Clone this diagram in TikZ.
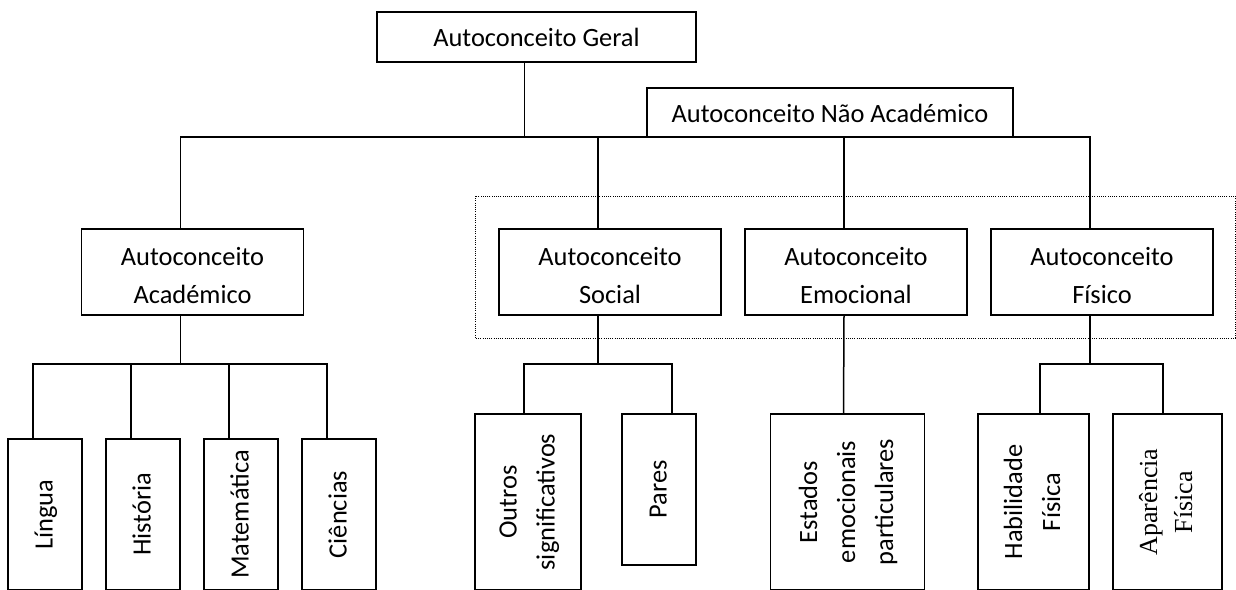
\documentclass[tikz,border=0pt]{standalone}
\usepackage{fontspec}
\setmainfont{Carlito}
\newfontfamily\serifface{Liberation Serif}
\usepackage{graphicx}
\usetikzlibrary{positioning}
\newcommand{\vlabel}[1]{\rotatebox{90}{\begin{tabular}{@{}c@{}}#1\end{tabular}}}

\begin{document}
\begin{tikzpicture}[x=0.5pt, y=-0.5pt]
  \tikzset{
    box/.style={draw, line width=0.75pt, inner sep=0pt, outer sep=0pt,
                font=\fontsize{13.2pt}{19pt}\selectfont},
    topbox/.style={box, minimum height=25pt, text height=1em},
    midbox/.style={box, align=center, text height=31.5pt,
                   minimum width=111pt, minimum height=43pt},
    tallbox/.style={box, minimum width=37pt},
    link/.style={line width=0.75pt},
    dotframe/.style={line width=0.5pt, dash pattern=on 0.5pt off 0.6pt}
  }
  \useasboundingbox (0,0) rectangle (1236,589);
  \clip (0,0) rectangle (1236,589);

  % upper levels
  \node[topbox, minimum width=159.5pt] (geral) at (536.5,37) {Autoconceito Geral};
  \node[topbox, minimum width=183pt, minimum height=24.5pt] (naoacad) at (830,112.5)
    {Autoconceito Não Académico};

  \draw[dotframe] (475,196) rectangle (1235,338);

  \node[midbox] (acad) at (192.5,272) {Autoconceito\\Académico};
  \node[midbox] (social) at (610,272) {Autoconceito\\Social};
  \node[midbox, right=12pt of social] (emoc) {Autoconceito\\Emocional};
  \node[midbox, right=12pt of emoc] (fisico) {Autoconceito\\Físico};

  % academic areas
  \node[tallbox, minimum height=75.5pt] (lingua) at (45,514.5) {\vlabel{Língua}};
  \node[tallbox, minimum height=75.5pt, right=12pt of lingua] (historia) {\vlabel{História}};
  \node[tallbox, minimum height=75.5pt, right=12pt of historia] (matem) {\vlabel{Matemática}};
  \node[tallbox, minimum height=75.5pt, right=12pt of matem] (ciencias) {\vlabel{Ciências}};

  % non academic areas
  \node[tallbox, minimum width=53pt, minimum height=88pt] (outros) at (528,502)
    {\vlabel{Outros\\significativos}};
  \node[tallbox, minimum height=75.5pt] (pares) at (659,489.5) {\vlabel{Pares}};
  \node[tallbox, minimum width=77pt, minimum height=88pt] (estados) at (847.5,502)
    {\vlabel{Estados\\emocionais\\particulares}};
  \node[tallbox, minimum width=55.5pt, minimum height=88pt] (habil) at (1033.5,502)
    {\vlabel{Habilidade\\Física}};
  \node[tallbox, minimum width=54.5pt, minimum height=88pt] (aparen) at (1167.5,502)
    {\serifface\fontsize{13pt}{17.5pt}\selectfont\vlabel{Aparência\\Física}};

  % connectors
  \draw[link] ([xshift=-6pt]geral.south) -- ++(0,75) -| ([xshift=-6pt]acad.north);
  \draw[link] ([xshift=-6pt]geral.south) -- ++(0,75) -| ([xshift=-6pt]social.north);
  \draw[link] ([xshift=-6pt]social.north) |- (naoacad.south west);
  \draw[link] ([xshift=-6pt]emoc.north) |- (naoacad.south);
  \draw[link] ([xshift=-6pt]fisico.north) |- (naoacad.south east);

  \foreach \n in {lingua,historia,matem,ciencias}
    \draw[link] ([xshift=-6pt]acad.south) -- ++(0,49) -| ([xshift=-6pt]\n.north);
  \draw[link] ([xshift=-6pt]social.south) -- ++(0,49) -| ([xshift=-2pt]outros.north);
  \draw[link] ([xshift=-6pt]social.south) -- ++(0,49) -| ([xshift=6.5pt]pares.north);
  \draw[link] ([xshift=-6pt]emoc.south) -- ([xshift=-2pt]estados.north);
  \draw[link] ([xshift=-6pt]fisico.south) -- ++(0,49) -| ([xshift=3.25pt]habil.north);
  \draw[link] ([xshift=-6pt]fisico.south) -- ++(0,49) -| ([xshift=-2.25pt]aparen.north);
\end{tikzpicture}
\end{document}
